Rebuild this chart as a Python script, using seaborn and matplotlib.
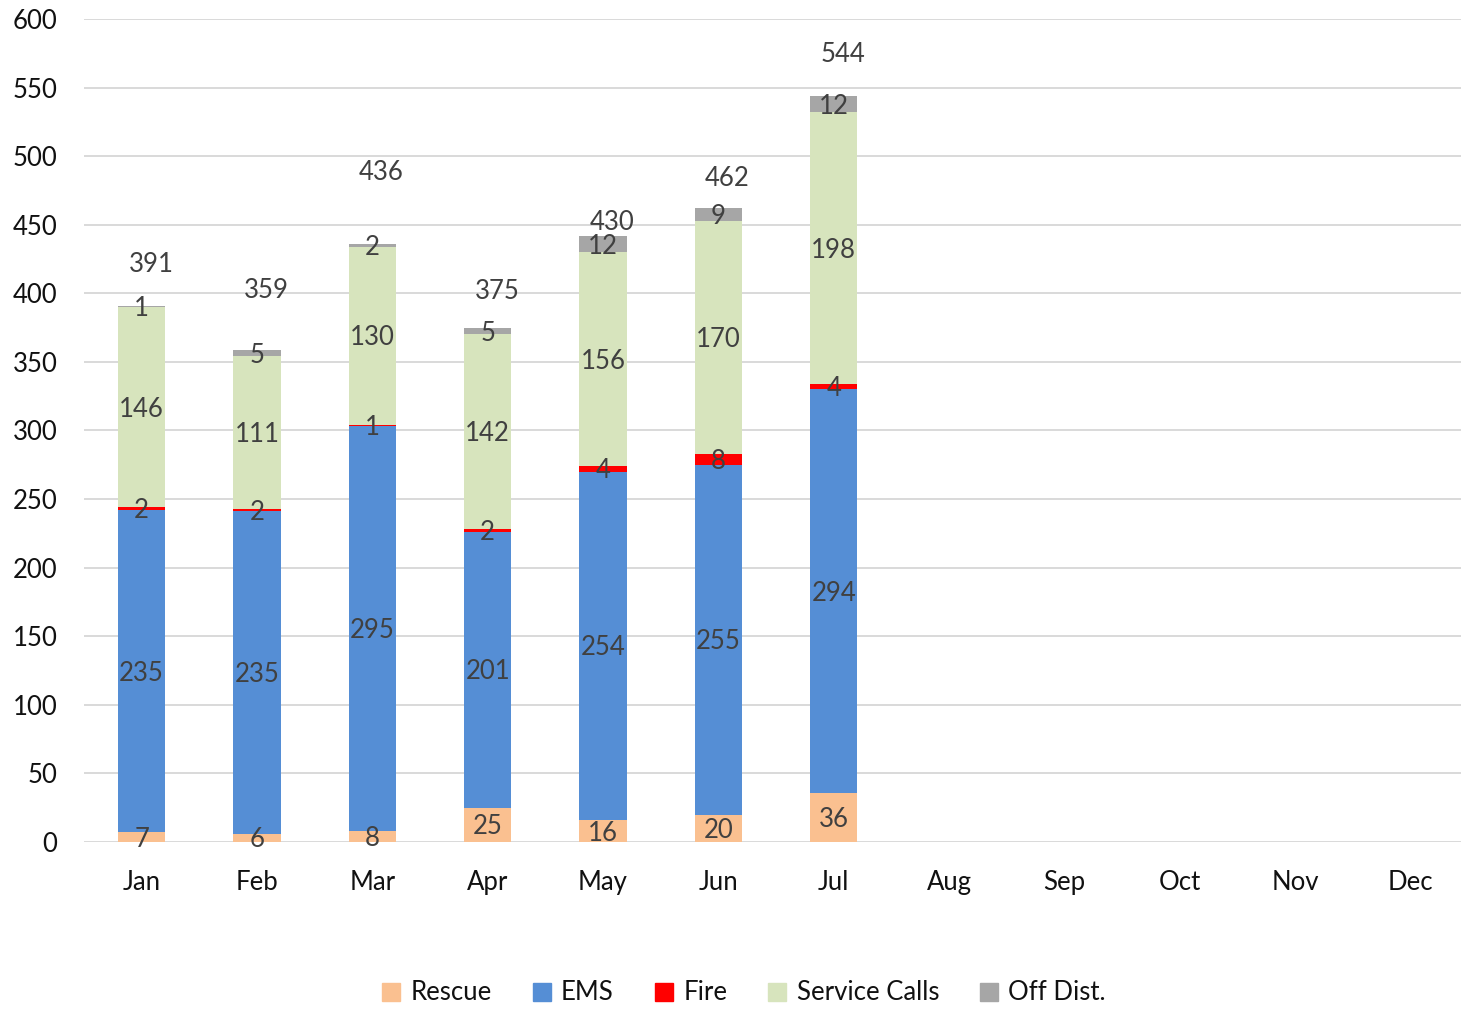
import numpy as np
import pandas as pd
import matplotlib
matplotlib.use("Agg")
import matplotlib.pyplot as plt
import seaborn as sns

months = ["Jan", "Feb", "Mar", "Apr", "May", "Jun", "Jul",
          "Aug", "Sep", "Oct", "Nov", "Dec"]
data_months = ["Jan", "Feb", "Mar", "Apr", "May", "Jun", "Jul"]

rescue = [7, 6, 8, 25, 16, 20, 36]
ems = [235, 235, 295, 201, 254, 255, 294]
fire = [2, 2, 1, 2, 4, 8, 4]
service_calls = [146, 111, 130, 142, 156, 170, 198]
off_dist = [1, 5, 2, 5, 12, 9, 12]
totals = [391, 359, 436, 375, 430, 462, 544]

# height at which each month's total label sits
total_label_y = [421, 402, 488, 401, 452, 484, 574]

series_names = ["Rescue", "EMS", "Fire", "Service Calls", "Off Dist."]
series_values = [rescue, ems, fire, service_calls, off_dist]
colors = ["#FAC090", "#558ED5", "#FF0000", "#D7E4BD", "#A6A6A6"]

sns.set_theme(style="white")
plt.rcParams["font.family"] = ["Lato", "DejaVu Sans"]

FS = 18.5
left_px, right_px = 84, 1468
fig = plt.figure(figsize=(14.61, 10.10), dpi=100)
ax = fig.add_axes([left_px / 1461, 1 - 842 / 1010,
                   (right_px - left_px) / 1461, (842 - 19) / 1010])

cum = np.cumsum(np.array(series_values), axis=0)

# draw cumulative heights from the top down so each layer shows its own band
for i in range(len(series_names) - 1, -1, -1):
    d = pd.DataFrame({"month": data_months, "value": cum[i]})
    sns.barplot(data=d, x="month", y="value", order=months, color=colors[i],
                width=0.41, saturation=1, ax=ax, zorder=3, linewidth=0,
                errorbar=None)

# segment labels centred in each band
for i, name in enumerate(series_names):
    for j, v in enumerate(series_values[i]):
        base = cum[i][j] - v
        ax.text(j, base + v / 2 - 1.5, f"{v}", ha="center", va="center",
                fontsize=FS, color="#404040", zorder=5)

# total labels above each stack
for j, t in enumerate(totals):
    ax.text(j + 0.08, total_label_y[j], f"{t}", ha="center", va="center",
            fontsize=FS, color="#404040", zorder=5)

ax.set_ylim(0, 600)
ax.set_xlim(-0.5, 11.5)
ax.set_yticks(np.arange(0, 601, 50))
ax.set_xlabel("")
ax.set_ylabel("")
ax.grid(axis="y", color="#D9D9D9", linewidth=1.4, zorder=0)
ax.set_axisbelow(True)
for s in ax.spines.values():
    s.set_visible(False)
ax.tick_params(axis="y", length=0, pad=19, labelsize=FS, labelcolor="#111111")
ax.tick_params(axis="x", length=0, pad=20, labelsize=FS, labelcolor="#111111")

handles = [plt.Rectangle((0, 0), 1, 1, color=c) for c in colors]
fig.legend(handles, series_names, loc="center",
           bbox_to_anchor=(744 / 1461, 1 - 993 / 1010), ncol=5, frameon=False,
           fontsize=FS, handlelength=0.7, handleheight=0.7,
           handletextpad=0.4, columnspacing=1.6, labelcolor="#111111")

fig.savefig("out.png", dpi=100)
